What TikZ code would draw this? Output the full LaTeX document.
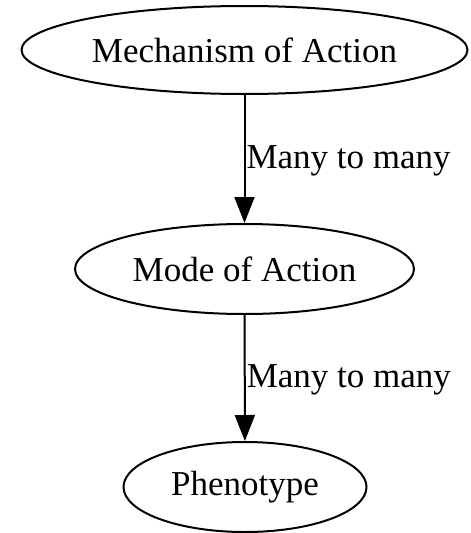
\documentclass[tikz,border=0pt]{standalone}
\usepackage{fontspec}
\setmainfont{Liberation Serif}
\usetikzlibrary{shapes.geometric,arrows.meta}
\begin{document}
\begin{tikzpicture}[x=1pt,y=-1pt,
  nd/.style={ellipse,draw,line width=2pt,inner sep=0pt,font=\fontsize{35}{40}\selectfont},
  edge/.style={draw,line width=2pt,-{Triangle[length=26pt,width=20pt]}},
  lab/.style={font=\fontsize{35}{40}\selectfont,anchor=west,inner sep=0pt}]
\useasboundingbox (0,0) rectangle (471,533);
\node[nd,minimum width=446pt,minimum height=88pt] (moa) at (244.5,50) {Mechanism of Action};
\node[nd,minimum width=339pt,minimum height=90pt] (mode) at (244.5,269) {Mode of Action};
\node[nd,minimum width=243pt,minimum height=90pt] (ph) at (245,487) {Phenotype};
\draw[edge] (moa) -- (mode) node[lab,pos=0.5,xshift=1pt,yshift=-2pt] {Many to many};
\draw[edge] (mode) -- (ph) node[lab,pos=0.5,xshift=1pt,yshift=-2pt] {Many to many};
\end{tikzpicture}
\end{document}
